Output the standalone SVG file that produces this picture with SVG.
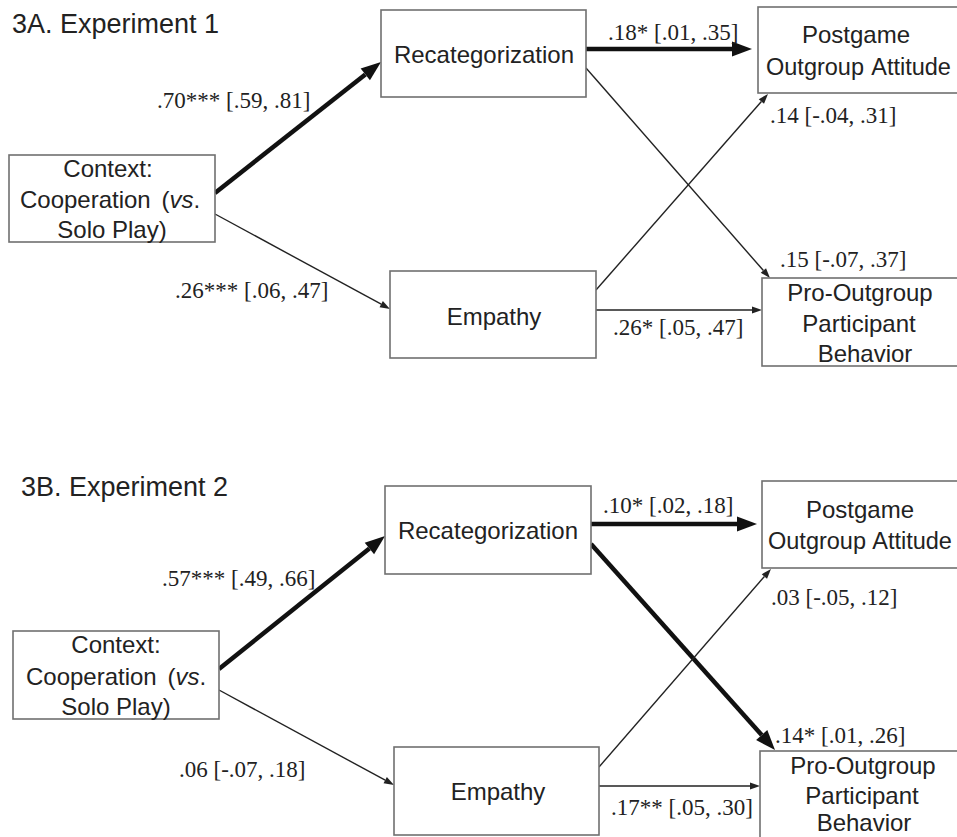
<svg xmlns="http://www.w3.org/2000/svg" width="957" height="837" viewBox="0 0 957 837">
<style>
.box{fill:#fff;stroke:#707070;stroke-width:1.6}
.nt{font-family:"Liberation Sans",Arial,sans-serif;font-size:24px;fill:#222;text-anchor:middle}
.ns{font-family:"Liberation Sans",Arial,sans-serif;font-size:23.5px;fill:#222;text-anchor:start}
.ttl{font-family:"Liberation Sans",Arial,sans-serif;font-size:27px;fill:#222}
.el{font-family:"Liberation Serif","Times New Roman",serif;font-size:23px;fill:#222}
.thick{stroke:#111;stroke-width:4.5;fill:none;marker-end:url(#hb)}
.thin{stroke:#222;stroke-width:1.4;fill:none;marker-end:url(#hs)}
</style>
<defs>
<marker id="hb" markerUnits="userSpaceOnUse" markerWidth="22" markerHeight="16" refX="0" refY="7.5" orient="auto" overflow="visible"><path d="M0,0 L20,7.5 L0,15 z" fill="#111"/></marker>
<marker id="hs" markerUnits="userSpaceOnUse" markerWidth="11" markerHeight="8" refX="0" refY="3.5" orient="auto" overflow="visible"><path d="M0,0 L10,3.5 L0,7 z" fill="#222"/></marker>
</defs>
<rect width="957" height="837" fill="#fff"/>

<text class="ttl" x="12" y="33">3A. Experiment 1</text>
<text class="ttl" x="21" y="496">3B. Experiment 2</text>

<g id="connectors">
<path class="thick" d="M215,193 L365.3,74.4"/>
<path class="thin" d="M215,214 L381.2,304.2"/>
<path class="thick" d="M586,49 L732,49"/>
<path class="thin" d="M586,68 L763.4,270.5"/>
<path class="thin" d="M596,290 L761.4,101.5"/>
<path class="thin" d="M596,310 L752,310"/>

<path class="thick" d="M219,669 L369.4,548.5"/>
<path class="thin" d="M219,690 L385.2,780.2"/>
<path class="thick" d="M591,524 L737,524"/>
<path class="thick" d="M591,544 L761.7,735.1"/>
<path class="thin" d="M599,767 L764.4,576.5"/>
<path class="thin" d="M599,786 L750,786"/>
</g>

<g id="edge-labels">
<text class="el" x="157" y="108">.70*** [.59, .81]</text>
<text class="el" x="175" y="298">.26*** [.06, .47]</text>
<text class="el" x="608" y="40">.18* [.01, .35]</text>
<text class="el" x="770" y="123">.14 [-.04, .31]</text>
<text class="el" x="780" y="267">.15 [-.07, .37]</text>
<text class="el" x="613" y="335">.26* [.05, .47]</text>

<text class="el" x="162" y="586">.57*** [.49, .66]</text>
<text class="el" x="179" y="777">.06 [-.07, .18]</text>
<text class="el" x="603" y="513">.10* [.02, .18]</text>
<text class="el" x="771" y="605">.03 [-.05, .12]</text>
<text class="el" x="775" y="743">.14* [.01, .26]</text>
<text class="el" x="611" y="815">.17** [.05, .30]</text>
</g>

<g id="a-context">
<rect class="box" x="9" y="155" width="206" height="87"/>
<text class="nt" x="108" y="177">Context:</text>
<text class="nt" x="110" y="208" word-spacing="4">Cooperation (<tspan font-style="italic">vs</tspan>.</text>
<text class="nt" x="112" y="238">Solo Play)</text>
</g>
<g id="a-recat">
<rect class="box" x="381" y="10" width="205" height="87"/>
<text class="nt" x="484" y="63">Recategorization</text>
</g>
<g id="a-empathy">
<rect class="box" x="390" y="271" width="206" height="87"/>
<text class="nt" x="494" y="325">Empathy</text>
</g>
<g id="a-postgame">
<rect class="box" x="758" y="7" width="220" height="86"/>
<text class="nt" x="856" y="43">Postgame</text>
<text class="ns" x="766" y="75" word-spacing="2">Outgroup Attitude</text>
</g>
<g id="a-pro">
<rect class="box" x="762" y="278" width="220" height="88"/>
<text class="nt" x="860" y="301">Pro-Outgroup</text>
<text class="nt" x="859" y="332">Participant</text>
<text class="nt" x="865" y="362">Behavior</text>
</g>

<g id="b-context">
<rect class="box" x="13" y="631" width="206" height="88"/>
<text class="nt" x="116" y="653">Context:</text>
<text class="nt" x="116" y="685" word-spacing="4">Cooperation (<tspan font-style="italic">vs</tspan>.</text>
<text class="nt" x="116" y="715">Solo Play)</text>
</g>
<g id="b-recat">
<rect class="box" x="385" y="486" width="206" height="88"/>
<text class="nt" x="488" y="539">Recategorization</text>
</g>
<g id="b-empathy">
<rect class="box" x="394" y="747" width="205" height="88"/>
<text class="nt" x="498" y="800">Empathy</text>
</g>
<g id="b-postgame">
<rect class="box" x="762" y="481" width="220" height="87"/>
<text class="nt" x="860" y="518">Postgame</text>
<text class="ns" x="768" y="549" word-spacing="1">Outgroup Attitude</text>
</g>
<g id="b-pro">
<rect class="box" x="760" y="751" width="220" height="100"/>
<text class="nt" x="863" y="774">Pro-Outgroup</text>
<text class="nt" x="862" y="804">Participant</text>
<text class="nt" x="864" y="831">Behavior</text>
</g>
</svg>
